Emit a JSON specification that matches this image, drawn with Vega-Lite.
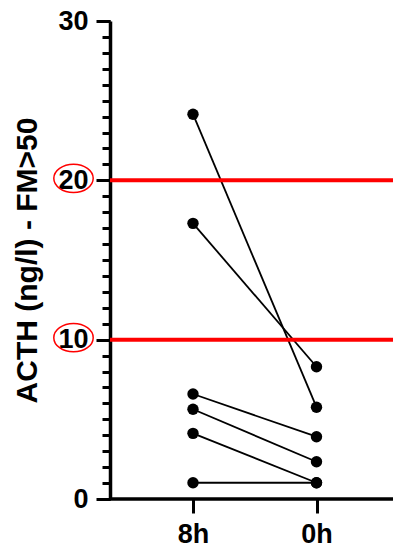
{
  "$schema": "https://vega.github.io/schema/vega-lite/v6.json",
  "autosize": {"type": "none"},
  "padding": {"left": 110, "top": 21, "right": 0, "bottom": 52},
  "width": 283,
  "height": 478,
  "background": "white",
  "config": {"view": {"stroke": null}, "font": "Liberation Sans"},
  "resolve": {"axis": {"y": "independent"}},
  "datasets": {
    "pts": [
      {"id": 1, "time": "8h", "value": 24.15},
      {"id": 1, "time": "0h", "value": 5.76},
      {"id": 2, "time": "8h", "value": 17.3},
      {"id": 2, "time": "0h", "value": 8.3},
      {"id": 3, "time": "8h", "value": 6.59},
      {"id": 3, "time": "0h", "value": 3.91},
      {"id": 4, "time": "8h", "value": 5.63},
      {"id": 4, "time": "0h", "value": 2.34},
      {"id": 5, "time": "8h", "value": 4.12},
      {"id": 5, "time": "0h", "value": 1.02},
      {"id": 6, "time": "8h", "value": 1.02},
      {"id": 6, "time": "0h", "value": 1.02}
    ],
    "thr": [{"value": 10}, {"value": 20}]
  },
  "layer": [
    {
      "data": {"name": "pts"},
      "mark": {"type": "line", "color": "black", "strokeWidth": 1.8},
      "encoding": {
        "x": {
          "field": "time", "type": "ordinal", "sort": ["8h", "0h"],
          "scale": {"type": "point", "range": [83, 206.5], "padding": 0},
          "axis": {
            "title": null, "domain": false, "tickSize": 14, "tickWidth": 3, "tickColor": "#000000",
            "labelFont": "Liberation Sans", "labelFontWeight": "bold", "labelFontSize": 27,
            "labelColor": "black", "labelPadding": 8, "labelAngle": 0, "grid": false
          }
        },
        "y": {
          "field": "value", "type": "quantitative",
          "scale": {"domain": [0, 30], "nice": false},
          "axis": {
            "orient": "left",
            "title": "ACTH (ng/l) - FM>50",
            "titleFont": "Liberation Sans", "titleFontSize": 30, "titleFontWeight": "bold",
            "titleColor": "black", "titlePadding": 15,
            "values": [0, 10, 20, 30],
            "format": "d",
            "labelOverlap": false, "labelFlush": false,
            "tickSize": 14,
            "tickWidth": 3,
            "tickColor": "#000000",
            "domainColor": "#000000", "domainWidth": 3.5,
            "labelPadding": 8, "labelFont": "Liberation Sans", "labelFontSize": 27,
            "labelFontWeight": "bold", "labelColor": "black", "grid": false
          }
        },
        "detail": {"field": "id"}
      }
    },
    {
      "data": {"name": "thr"},
      "mark": {"type": "rule", "color": "#ff0000", "strokeWidth": 4},
      "encoding": {
        "y": {
          "field": "value", "type": "quantitative",
          "axis": {
            "orient": "left", "title": null, "labels": false, "domain": false, "grid": false,
            "values": [0,1,2,3,4,5,6,7,8,9,10,11,12,13,14,15,16,17,18,19,20,21,22,23,24,25,26,27,28,29,30],
            "tickCount": 100,
            "tickSize": 8, "tickWidth": 3, "tickColor": "#000000"
          }
        }
      }
    },
    {
      "data": {"name": "pts"},
      "mark": {"type": "point", "shape": "circle", "filled": true, "color": "black", "size": 130, "opacity": 1},
      "encoding": {
        "x": {"field": "time", "type": "ordinal", "sort": ["8h", "0h"]},
        "y": {"field": "value", "type": "quantitative", "axis": null}
      }
    },
    {
      "data": {"name": "thr"},
      "mark": {
        "type": "point",
        "shape": "M -1,0 A 1,0.72 0 1,1 1,0 A 1,0.72 0 1,1 -1,0 Z",
        "filled": false, "color": "#ff0000", "strokeWidth": 1.5, "size": 1552,
        "xOffset": -36.5, "yOffset": -2, "opacity": 1
      },
      "encoding": {
        "x": {"value": 0},
        "y": {"field": "value", "type": "quantitative", "axis": null}
      }
    },
    {
      "data": {"values": [{}]},
      "mark": {"type": "rule", "color": "black", "strokeWidth": 3.5},
      "encoding": {"y": {"datum": 0, "axis": null}}
    }
  ]
}
